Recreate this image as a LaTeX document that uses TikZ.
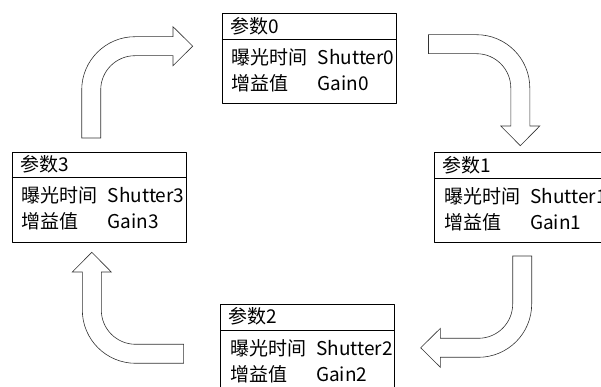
\documentclass[tikz,border=0pt]{standalone}
\usepackage{fontspec}
\setmainfont{Noto Sans CJK SC}
\usetikzlibrary{calc}
\tikzset{
	parbox/.style={draw, line width=0.7pt, minimum width=174pt, minimum height=90pt, anchor=north west, inner sep=0pt},
	bendbox/.style={draw=black!80, fill=white, line width=0.6pt, line join=miter},
	partext/.style={anchor=west, inner sep=0pt, align=left, font=\fontsize{19}{26}\selectfont},
}
% bent block arrow: centre x, centre y, rotation
\newcommand{\bendarrow}[3]{%
	\draw[bendbox, shift={(#1,#2)}, rotate=#3]
	(-53.3,-48) -- (-53.3,0) arc[start angle=180, end angle=90, radius=53.3]
	-- (38,53.3) -- (38,63.3) -- (57.7,43.8) -- (38,24.3) -- (38,34.3)
	-- (0,34.3) arc[start angle=90, end angle=180, radius=34.3]
	-- (-34.3,-48) -- cycle;}
\begin{document}
\begin{tikzpicture}[x=1pt, y=1pt, line join=round]
	\useasboundingbox (0,0) rectangle (601,387);
	
	% 1. Khung tham so
	\foreach \i/\x/\y in {0/221.7/373.7, 1/434/234.7, 2/220/83, 3/11.7/235.3} {
		\node[parbox] (p\i) at (\x,\y) {};
		\draw[line width=0.7pt] ($(p\i.north west)+(0,-26)$) -- ($(p\i.north east)+(0,-26)$);
		\node[partext] (h\i) at ($(p\i.north west)+(8.5,-12.5)$) {参数\i};
		\node[partext] (b\i) at ($(p\i.north west)+(10,-57)$)
			{\makebox[86pt][l]{曝光时间}Shutter\i\\ \makebox[86pt][l]{增益值}Gain\i};
	}
	
	% 2. Mui ten cong
	\bendarrow{135}{297}{0}
	\bendarrow{476.5}{299}{-90}
	\bendarrow{478.4}{83}{180}
	\bendarrow{135.6}{77}{90}
\end{tikzpicture}
\end{document}
